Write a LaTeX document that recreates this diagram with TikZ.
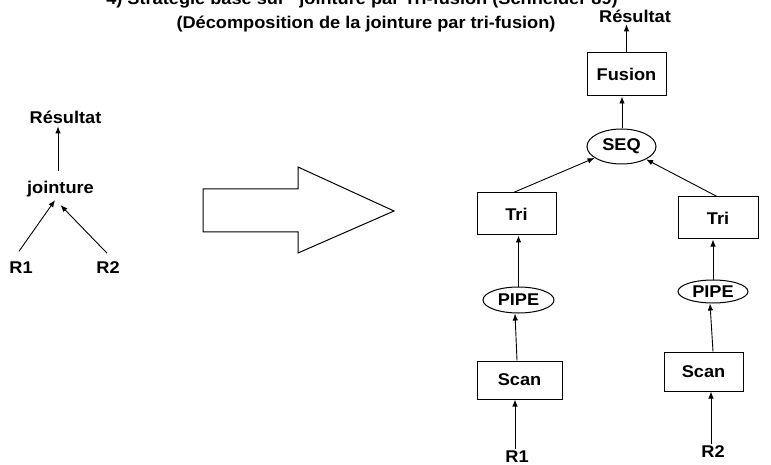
\documentclass[tikz,border=0pt]{standalone}
\usepackage{fontspec}
\setmainfont[FakeStretch=1.07]{Liberation Sans}
\usetikzlibrary{arrows.meta,shapes.geometric}
\begin{document}
\begin{tikzpicture}[x=1pt,y=-1pt,
  lbl/.style={font=\bfseries\fontsize{17}{19}\selectfont, inner sep=1pt, anchor=base},
  opbox/.style={draw, line width=1pt, inner sep=0pt, font=\bfseries\fontsize{17}{19}\selectfont},
  opell/.style={opbox, ellipse},
  arr/.style={-{Latex[length=7pt,width=5.5pt]}, line width=0.9pt}]
\useasboundingbox (0,0) rectangle (771,465);
\clip (0,0) rectangle (771,465);

% title
\node[lbl] (t1) at (362,5) {4) Stratégie basé sur "jointure par Tri-fusion (Schneider 89)};
\node[lbl] (t2) at (366,29) {(Décomposition de la jointure par tri-fusion)};

% left tree
\node[lbl] (resL) at (65.5,124) {Résultat};
\node[lbl] (joint) at (60.5,194) {jointure};
\node[lbl] (r1L) at (21,273) {R1};
\node[lbl] (r2L) at (108,273) {R2};
\draw[arr] ([xshift=-2.5pt,yshift=9.6pt]joint.north) -- ([xshift=-2.5pt,yshift=-1pt]joint.north |- resL.south);
\draw[arr] ([xshift=-2pt,yshift=8.8pt]r1L.north) -- ([xshift=-5.5pt,yshift=-1.4pt]joint.south);
\draw[arr] ([xshift=-1pt,yshift=6.8pt]r2L.north) -- ([xshift=0pt,yshift=-6.4pt]joint.south);

% big arrow
\draw[line width=1pt, line join=miter] (203,189) -- (298,189) -- (298,167) -- (394,211) -- (298,253) -- (298,232) -- (203,232) -- cycle;

% right tree
\node[lbl] (resR) at (635,23) {Résultat};
\node[opbox, minimum width=79pt, minimum height=43pt] (fusion) at (626.5,74.5) {Fusion};
\node[opell, minimum width=69pt, minimum height=35pt] (seq) at (621.5,146.5) {SEQ};
\node[opbox, minimum width=79pt, minimum height=42pt] (triL) at (516.5,214) {Tri};
\node[opbox, minimum width=80pt, minimum height=42pt] (triR) at (718,218) {Tri};
\node[opell, minimum width=71pt, minimum height=26pt] (pipeL) at (518.5,300) {PIPE};
\node[opell, minimum width=70pt, minimum height=23pt] (pipeR) at (713,291.5) {PIPE};
\node[opbox, minimum width=85pt, minimum height=38pt] (scanL) at (519.5,380) {Scan};
\node[opbox, minimum width=79pt, minimum height=39pt] (scanR) at (703.5,371.5) {Scan};
\node[lbl] (r1R) at (517,462) {R1};
\node[lbl] (r2R) at (713,457) {R2};

\draw[arr] (fusion.north) -- (fusion.north |- resR.south);
\draw[arr] ([xshift=0.5pt]seq.north) -- ([xshift=0.5pt]seq.north |- fusion.south);
\draw[arr] ([xshift=-3pt]triL.north) -- (seq);
\draw[arr] ([xshift=-1pt]triR.north) -- (seq);
\draw[arr] (pipeL.north) -- (pipeL.north |- triL.south);
\draw[arr] ([xshift=-2.5pt]scanL.north) -- ([xshift=-3.5pt]pipeL.south);
\draw[arr] ([xshift=-2pt]r1R.north) -- ([xshift=-2pt]r1R.north |- scanL.south);
\draw[arr] (pipeR.north) -- (pipeR.north |- triR.south);
\draw[arr] ([xshift=9.5pt]scanR.north) -- ([xshift=-3pt]pipeR.south);
\draw[arr] ([xshift=-2pt]r2R.north) -- ([xshift=-2pt]r2R.north |- scanR.south);
\end{tikzpicture}
\end{document}
